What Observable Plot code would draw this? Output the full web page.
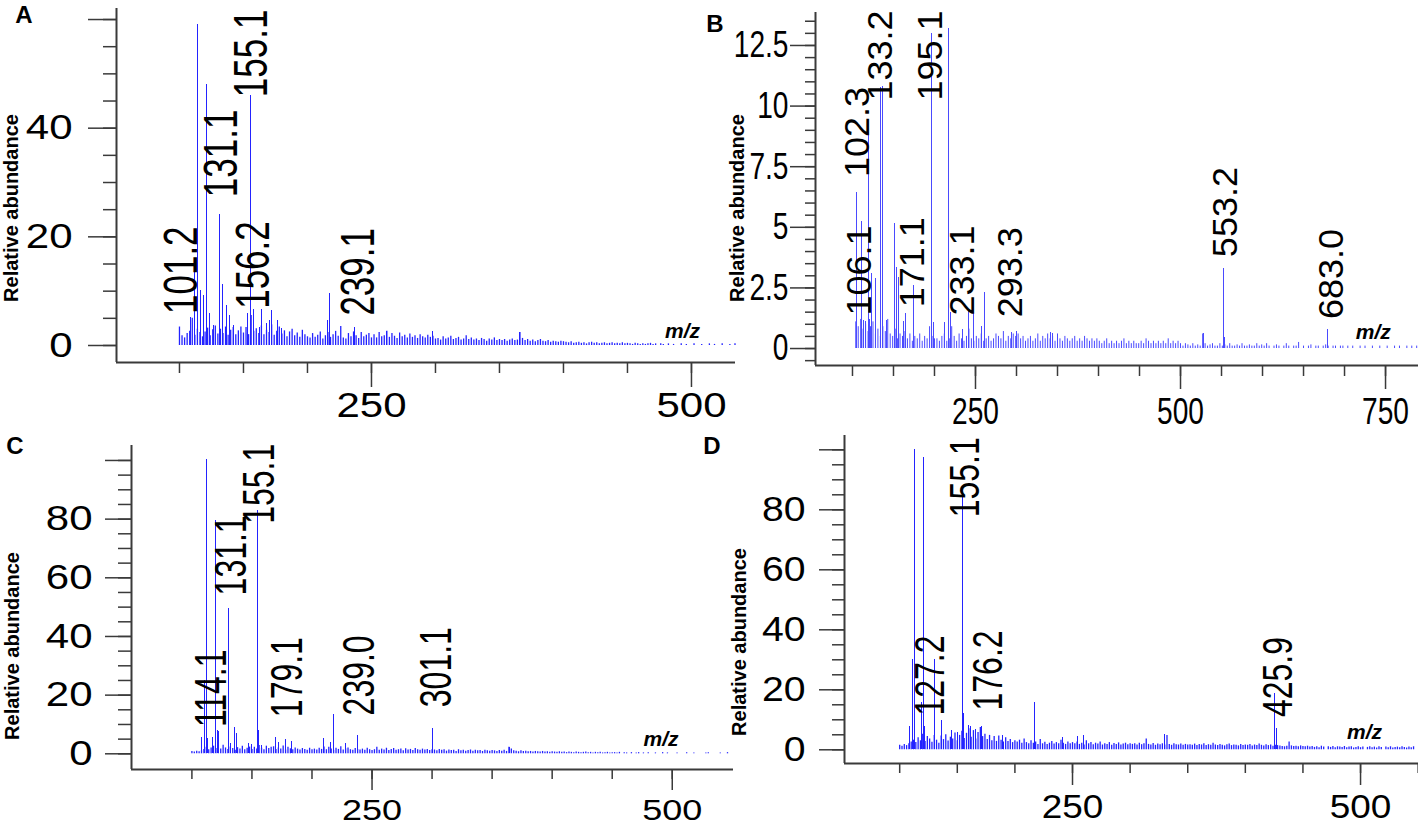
<!DOCTYPE html>
<html><head><meta charset="utf-8">
<script src="https://cdn.jsdelivr.net/npm/d3@7"></script>
<script src="https://cdn.jsdelivr.net/npm/@observablehq/plot@0.6"></script>
<style>
body{margin:0;background:#fff;}
#chart{position:relative;width:1418px;height:828px;overflow:hidden;background:#fff;font-family:"Liberation Sans",Arial,sans-serif;}
.panel{position:absolute;}
.letter{position:absolute;font-weight:bold;font-size:24px;transform:translate(-50%,-50%);color:#000;}
.ylab{position:absolute;font-weight:bold;font-size:20px;white-space:nowrap;transform:translate(-50%,-50%) rotate(-90deg);color:#000;}
</style></head><body><div id="chart"></div>
<script>
// ---------- Panel A data ----------
const peakMzA  = [100,109,111.7,113.7,116.3,118.9,121,123.3,126.4,131.1,133.8,136.4,139,142.4,153.3,155.1,158,162.4,163.7,167.6,170.2,172,176.2,179.8,215.4,217.2,237,261.5,297.4,365.5];
const peakIntA = [3.4,5.2,15.3,59.1,10.2,9.2,48.0,5.8,3.7,24.2,11.2,7.4,5.5,3.7,5.8,46.1,6.7,3.3,6.6,4.0,4.6,6.4,4.6,3.1,4.6,9.6,3.3,2.6,2.5,2.4];
// background ions, every 2 m/z from 100
const noiseA = [3.4,1.8,1.4,2.2,2.6,5.0,1.9,3.0,2.4,1.6,2.5,3.2,1.8,2.9,3.6,2.1,3.0,2.2,3.4,1.9,2.8,3.3,2.0,2.7,3.4,2.3,
3.3,2.0,5.5,2.6,3.1,2.2,3.6,2.0,2.8,2.4,3.8,1.9,2.6,3.4,2.1,2.7,1.6,2.5,3.0,1.8,2.3,1.5,2.8,2.0,1.6,
1.4,2.2,1.5,1.9,2.5,1.2,1.8,2.4,1.5,2.0,2.6,1.7,3.5,1.4,1.2,2.2,1.6,2.5,1.8,1.3,2.4,1.6,1.9,2.2,1.4,
2.0,1.4,2.4,1.6,1.8,2.6,1.5,2.2,1.7,1.3,2.3,1.6,1.9,1.4,2.1,1.5,1.8,1.3,2.0,1.6,1.4,1.9,1.5,1.7,1.2,
1.3,1.0,1.6,1.2,1.4,1.7,1.1,1.3,1.5,1.0,1.2,1.8,1.1,1.4,1.0,1.2,0.9,1.3,1.1,0.8,1.2,1.0,1.4,0.9,1.1,
0.9,1.1,0.8,1.0,1.2,0.9,1.0,2.4,1.3,0.9,1.1,0.8,1.0,0.7,0.9,1.1,0.8,0.7,0.9,0.6,0.8,0.7,0.6,0.8,0.7,
0.6,0.5,0.7,0.4,0.5,0.6,0.4,0.5,0.3,0.5,0.6,0.4,0.5,0.3,0.4,0.5,0.3,0.4,0.5,0.3,0.4,0.3,0.5,0.3,0.4,
0.3,0.2,0.4,0.3,0.2,0.3,0.2,0.3,0.4,0.2,0.3,0,0.3,0.2,0,0.3,0,0.2,0,0,0.3,0,0.2,0,0,0.3,0,0,0.2,0,0,0.3,0,0.2,0,0,0.3,0,0,0.2,0,0.3];
const labelTextA = ["101.2","131.1","155.1","156.2","239.1"];
const labelMzA   = [113.8,145.1,168.5,169.8,251.8];
const labelIntA  = [5.8,27.3,45.7,6.75,5.5];
const yTicksA = [0,5,10,15,20,25,30,35,40,45,50,55,60];
const yMajorA = [0,20,40,60];
const yLabelsA = [0,20,40];
const xTicksA = [100,150,200,250,300,350,400,450,500];
const xLabelsA = [250,500];

// ---------- Panel B data ----------
const peakMzB  = [104.9,111,113,116,119.1,121,123,128,134.2,137,142,151.6,153.2,155.7,162.6,165,174.8,196.3,199,212,217.5,219.5,234.6,241,248,257,261.4,293.5,300,341.5,344,528,552.4,553.5,679];
const peakIntB = [6.42,5.24,1.15,1.1,8.93,1.2,3.08,2.9,10.76,10.8,1.15,5.17,3.36,2.94,1.1,1.43,2.6,12.98,1.09,1.09,13.19,1.5,0.8,1.57,1.5,0.9,2.3,0.67,0.7,0.65,0.6,0.6,3.3,0.44,0.78];
// background ions, every 3 m/z from 104
const noiseB = [1.1,0.9,1.2,0.8,1.0,0.7,0.9,1.1,0.6,0.8,0.5,0.9,0.7,1.2,0.6,0.5,0.8,0.4,0.6,0.5,0.7,0.4,0.6,0.3,0.5,0.4,0.6,0.3,0.5,0.4,0.9,0.5,0.4,
0.4,0.3,0.5,0.6,0.3,0.4,0.9,0.5,0.3,0.6,0.4,0.3,0.5,0.8,0.4,0.3,0.5,0.4,0.6,0.3,0.4,0.5,0.3,0.4,0.6,0.5,0.4,0.7,0.3,0.5,0.4,0.6,0.5,
0.6,0.4,0.5,0.3,0.4,0.5,0.3,0.4,0.6,0.3,0.5,0.4,0.6,0.4,0.5,0.3,0.6,0.4,0.3,0.5,0.4,0.3,0.4,0.5,0.3,0.4,0.3,0.5,0.4,0.3,0.4,0.3,0.4,
0.3,0.2,0.3,0.4,0.2,0.3,0.2,0.3,0.2,0.3,0.4,0.2,0.3,0.2,0.3,0.2,0.2,0.3,0.2,0.4,0.3,0.2,0.3,0.2,0.3,0.2,0.3,0.2,0.4,0.2,0.3,0.2,0.3,
0.2,0.1,0.2,0.15,0.1,0.2,0.1,0.15,0.1,0.6,0.2,0.1,0.15,0.2,0.1,0.1,0.2,0.1,0.15,0.1,0.2,0.1,0.1,0.15,0.1,0.2,0.1,0.1,0.15,0.1,0.1,0.2,0.1,
0.15,0.1,0.2,0.1,0,0.1,0.15,0.1,0,0.1,0.2,0.1,0,0.1,0.1,0.25,0,0.1,0,0.1,0.15,0,0.1,0.1,0,0.1,0.15,0.1,0,0.1,0.1,0,0.1,
0.1,0,0.1,0,0.1,0,0,0.1,0,0.1,0,0,0.1,0,0,0.1,0,0,0.1,0,0,0.1,0,0.1,0,0,0.1,0,0.1,0,0.1];
const labelTextB = ["102.3","106.1","133.2","171.1","195.1","233.1","293.3","553.2","683.0"];
const labelMzB   = [119.9,122,148.4,187,209.4,248,307,569,697.6];
const labelIntB  = [7.07,1.36,10.23,1.70,10.23,1.36,1.29,3.77,1.22];
const yTicksB = [-0.5,0,0.5,1,1.5,2,2.5,3,3.5,4,4.5,5,5.5,6,6.5,7,7.5,8,8.5,9,9.5,10,10.5,11,11.5,12,12.5,13,13.5];
const yMajorB = [0,2.5,5,7.5,10,12.5];
const yLabelsB = [0,2.5,5,7.5,10,12.5];
const xTicksB = [100,150,200,250,300,350,400,450,500,550,600,650,700,750];
const xLabelsB = [250,500,750];

// ---------- Panel C data ----------
const peakMzC  = [107.8,110.5,112.2,113,117,119.7,121,122.5,130.2,132,135.5,137,147.4,150,154.4,155.4,158,169.6,172.4,178,183,209.9,215.5,217.7,228,237.7,300.6,364.5];
const peakIntC = [5.7,25,100.2,5.1,5.7,79.5,8.0,7.6,49.4,3.4,9.1,6.8,3.4,3.1,83,8.0,2.8,5.7,4.0,4.9,4.2,5.3,4.0,13.4,3.6,6.25,8.5,2.3];
// background ions, every 2 m/z from 100
const noiseC = [0.8,0.6,0.9,0.7,1.0,1.5,2.2,1.4,2.0,2.6,1.8,2.4,1.6,2.9,2.0,1.5,2.3,1.8,1.2,2.1,1.6,2.6,1.4,1.9,2.3,1.5,
2.2,1.6,2.8,1.9,1.4,2.6,1.8,2.2,2.4,1.5,2.0,1.6,2.7,1.3,2.2,1.7,1.4,2.0,1.6,1.3,1.8,1.5,1.2,1.9,1.4,
1.6,1.3,1.9,1.5,2.3,1.4,2.2,1.6,1.2,1.9,1.5,2.4,1.3,1.7,2.0,1.4,1.2,1.8,1.5,1.3,1.6,1.2,1.9,1.4,1.1,
1.4,2.2,1.2,1.6,1.3,1.9,1.1,1.5,1.8,1.2,1.4,1.6,1.0,1.7,1.3,1.5,1.1,1.8,1.4,1.2,1.6,1.3,1.5,1.1,1.4,
1.3,1.0,1.5,1.2,1.4,0.9,1.3,1.1,1.2,0.8,1.4,1.0,1.2,0.9,1.1,1.3,0.9,1.2,1.0,1.1,0.8,1.2,1.0,0.9,1.1,
1.0,0.8,1.1,0.9,1.2,0.8,2.2,1.6,1.0,0.9,0.7,1.0,0.8,0.9,0.7,0.8,0.6,0.8,0.7,0.6,0.8,0.6,0.7,0.5,0.7,
0.6,0.5,0.7,0.5,0.6,0.4,0.6,0.5,0.4,0.6,0.5,0.4,0.5,0.6,0.4,0.5,0.3,0.5,0.4,0.5,0.3,0.4,0.5,0.3,0.4,
0.4,0.3,0.5,0,0.4,0.3,0,0.4,0,0.3,0.4,0,0.3,0,0.4,0,0,0.3,0,0,0.4,0,0.3,0,0,0,0.3,0,0,0,0.4,0,0,0.3,0,0,0,0,0.3,0.4,0,0,0,0,0.3,0,0,0.4];
const labelTextC = ["114.1","131.1","155.1","179.1","239.0","301.1"];
const labelMzC   = [128,144.7,168.2,191.9,251.5,315.4];
const labelIntC  = [9.1,54,78.4,12.5,13.1,15.9];
const yTicksC = [0,5,10,15,20,25,30,35,40,45,50,55,60,65,70,75,80,85,90,95,100];
const yMajorC = [0,20,40,60,80,100];
const yLabelsC = [0,20,40,60,80];
const xTicksC = [100,150,200,250,300,350,400,450,500];
const xLabelsC = [250,500];

// ---------- Panel D data ----------
const peakMzD  = [108.5,110.8,113.1,118.9,120.4,121.8,130.5,136,145,150,154.3,155.1,159.5,161.8,166,170.7,189,217.3,241,254,259.5,330,425,427];
const peakIntD = [7.6,30,100,15.9,97.3,7.6,30,9.8,6.4,5.8,87.6,12,8.1,7.8,6.8,7.6,4.8,15.9,4.2,4.4,4.8,5.0,18.9,7.2];
// background ions, every 2 m/z from 100
const noiseD = [1.5,1.2,1.8,1.4,2.0,2.6,3.2,2.4,4.0,3.0,5.2,2.8,4.4,3.6,2.5,4.8,3.2,2.2,4.6,3.4,5.0,2.9,4.2,3.6,5.6,3.0,
4.8,6.2,3.8,5.5,7.0,4.2,6.4,3.6,5.8,7.4,4.4,5.2,3.4,4.8,3.0,4.4,2.8,4.6,3.2,2.6,4.0,2.8,3.4,2.4,3.0,
2.6,3.2,2.2,3.6,2.4,2.0,3.0,2.2,2.6,1.8,3.4,2.0,2.5,1.8,2.2,2.8,1.9,2.4,2.0,3.2,2.2,1.8,2.6,2.0,2.4,
2.0,2.6,1.8,2.2,1.6,3.0,2.0,2.4,1.7,2.2,1.9,2.6,1.6,2.0,1.8,2.4,1.5,2.1,1.8,2.3,1.6,1.9,2.2,1.7,2.0,
1.8,2.0,1.6,2.2,1.7,2.0,3.6,1.8,1.6,2.1,1.5,1.9,1.7,2.0,1.6,4.8,1.8,1.5,2.0,1.7,1.6,1.9,1.5,1.8,1.6,
1.7,1.5,1.9,1.4,1.8,1.6,2.0,1.4,1.7,1.5,2.2,1.6,1.4,1.8,1.5,1.3,1.7,1.9,1.4,1.6,1.5,1.3,1.8,1.4,1.6,
1.5,1.8,1.3,1.6,1.4,1.9,1.5,1.3,1.7,1.4,1.6,1.2,1.5,1.4,1.3,1.1,1.0,1.2,2.6,1.3,1.1,1.2,1.0,1.3,1.1,
1.0,1.2,0.9,1.1,0.8,1.0,0.7,1.2,0.9,0,1.0,0.8,1.1,0.7,1.0,0.9,0.8,1.1,0.7,0.9,1.0,0.6,0.8,1.0,0.7,0.9,0,0.8,1.0,0.7,0.9,0.6,1.0,0.8,0,0.9,0.7,1.0,0.6,0.8,0.9,0.7,1.0,0.8,0.6,0.9,0.7,1.0];
const labelTextD = ["127.2","155.1","176.2","425.9"];
const labelMzD   = [138.3,168.7,189,440.4];
const labelIntD  = [11.4,77.5,13.1,10.9];
const yTicksD = [0,5,10,15,20,25,30,35,40,45,50,55,60,65,70,75,80,85,90,95,100];
const yMajorD = [0,20,40,60,80,100];
const yLabelsD = [0,20,40,60,80];
const xTicksD = [100,150,200,250,300,350,400,450,500,550];
const xLabelsD = [250,500];

const panelLetters = ["A","B","C","D"];
const yTitle = "Relative abundance";
const xTitle = "m/z";

// ---------- layout / style ----------
const AXIS = "#3a3a3a";
const FONT = "Liberation Sans, Arial, sans-serif";

const panels = [
  {letter:panelLetters[0], left:0, top:0, width:740, height:430, mL:116, mR:5, mT:8, mB:68,
   xDomain:[50.8,534.4], yDomain:[-3.13,62.03],
   peakMz:peakMzA, peakInt:peakIntA, noise:noiseA, noiseStart:100, noiseStep:2,
   labelText:labelTextA, labelMz:labelMzA, labelInt:labelIntA,
   yTicks:yTicksA, yMajor:yMajorA, yLabels:yLabelsA, xTicks:xTicksA, xLabels:xLabelsA,
   yMin:13, yMaj:28, yPad:16, xMin:11, xMaj:25, xPad:5, tickFont:35, xFont:35, tickSx:1.2,
   peakFont:35, peakStretch:1.35, lineColor:"#2323ff", lineWidth:1.3,
   mzPos:[493,2.58], letterPos:[24,15], titlePos:[11,208]},
  {letter:panelLetters[1], left:700, top:0, width:718, height:430, mL:115, mR:0, mT:12, mB:65,
   xDomain:[54.9,790.2], yDomain:[-0.70,13.86],
   peakMz:peakMzB, peakInt:peakIntB, noise:noiseB, noiseStart:104, noiseStep:3,
   labelText:labelTextB, labelMz:labelMzB, labelInt:labelIntB,
   yTicks:yTicksB, yMajor:yMajorB, yLabels:yLabelsB, xTicks:xTicksB, xLabels:xLabelsB,
   yMin:10, yMaj:25, yPad:2, xMin:11, xMaj:24, xPad:8, tickFont:37, xFont:37, tickSx:0.76,
   peakFont:36, peakStretch:0.95, lineColor:"#4a4aff", lineWidth:1,
   mzPos:[735,0.66], letterPos:[715,24], titlePos:[737,208]},
  {letter:panelLetters[2], left:0, top:414, width:740, height:414, mL:131, mR:7, mT:31, mB:59,
   xDomain:[49.7,551], yDomain:[-5.35,105.1],
   peakMz:peakMzC, peakInt:peakIntC, noise:noiseC, noiseStart:100, noiseStep:2,
   labelText:labelTextC, labelMz:labelMzC, labelInt:labelIntC,
   yTicks:yTicksC, yMajor:yMajorC, yLabels:yLabelsC, xTicks:xTicksC, xLabels:xLabelsC,
   yMin:13, yMaj:26, yPad:13, xMin:10, xMaj:21, xPad:8, tickFont:35, xFont:30, tickSx:1.2,
   peakFont:32, peakStretch:1.4, lineColor:"#2323ff", lineWidth:1.3,
   mzPos:[490.7,4.9], letterPos:[15,446], titlePos:[12,646]},
  {letter:panelLetters[3], left:700, top:414, width:718, height:414, mL:144, mR:0, mT:21, mB:65,
   xDomain:[52.1,550.3], yDomain:[-4.57,104.77],
   peakMz:peakMzD, peakInt:peakIntD, noise:noiseD, noiseStart:100, noiseStep:2,
   labelText:labelTextD, labelMz:labelMzD, labelInt:labelIntD,
   yTicks:yTicksD, yMajor:yMajorD, yLabels:yLabelsD, xTicks:xTicksD, xLabels:xLabelsD,
   yMin:12, yMaj:25, yPad:14, xMin:10, xMaj:22, xPad:9, tickFont:35, xFont:33, tickSx:1.12,
   peakFont:32, peakStretch:1.3, lineColor:"#2323ff", lineWidth:1.3,
   mzPos:[503.5,5.9], letterPos:[712,446], titlePos:[739,642]}
];

// widen or narrow glyphs in place (the source figure's panels were resampled unevenly)
function stretchGroup(svg, names, sx, sy, only) {
  svg.querySelectorAll("g").forEach(g => {
    if (!names.includes(g.getAttribute("aria-label"))) return;
    g.querySelectorAll("text").forEach(t => {
      if (only && !only.includes(t.textContent)) return;
      const tr = t.getAttribute("transform") || "";
      t.setAttribute("transform", tr + " scale(" + sx + "," + sy + ")");
    });
  });
}

const chart = document.getElementById("chart");

for (const p of panels) {
  const noise = p.noise.map((v, i) => ({mz: p.noiseStart + i * p.noiseStep, int: v}));
  const peaks = p.peakMz.map((m, i) => ({mz: m, int: p.peakInt[i]}));
  const labels = p.labelText.map((t, i) => ({text: t, mz: p.labelMz[i], int: p.labelInt[i]}));
  const svg = Plot.plot({
    width: p.width, height: p.height,
    marginLeft: p.mL, marginRight: p.mR, marginTop: p.mT, marginBottom: p.mB,
    x: {domain: p.xDomain, label: null},
    y: {domain: p.yDomain, label: null},
    style: {background: "transparent", overflow: "visible", fontFamily: FONT, color: "#000"},
    marks: [
      Plot.ruleX(noise, {x: "mz", y1: 0, y2: "int", stroke: p.lineColor, strokeWidth: p.lineWidth}),
      Plot.ruleX(peaks, {x: "mz", y1: 0, y2: "int", stroke: p.lineColor, strokeWidth: 1, shapeRendering: "crispEdges"}),
      Plot.ruleX([p.xDomain[0]], {stroke: AXIS, strokeWidth: 2}),
      Plot.ruleY([p.yDomain[0]], {stroke: AXIS, strokeWidth: 2}),
      Plot.axisY(p.yTicks, {anchor: "left", tickSize: p.yMin, tickFormat: () => "", label: null, color: AXIS, strokeWidth: 1.5}),
      Plot.axisY(p.yMajor, {anchor: "left", tickSize: p.yMaj, tickPadding: p.yPad, label: null, color: AXIS, strokeWidth: 1.5,
        tickFormat: d => p.yLabels.includes(d) ? String(d) : "", fontSize: p.tickFont, fill: "#000"}),
      Plot.axisX(p.xTicks, {anchor: "bottom", tickSize: p.xMin, tickFormat: () => "", label: null, color: AXIS, strokeWidth: 1.5}),
      Plot.axisX(p.xLabels, {anchor: "bottom", tickSize: p.xMaj, tickPadding: p.xPad, label: null, color: AXIS, strokeWidth: 1.5,
        tickFormat: d => String(d), fontSize: p.xFont, fill: "#000"}),
      Plot.text(labels, {x: "mz", y: "int", text: "text", rotate: -90, textAnchor: "start", lineAnchor: "bottom",
        fontSize: p.peakFont, fill: "#000"}),
      Plot.text([xTitle], {x: () => p.mzPos[0], y: () => p.mzPos[1], text: d => d, fontSize: 21, fontWeight: "bold",
        fontStyle: "italic", fill: "#000", textAnchor: "middle", lineAnchor: "middle"})
    ]
  });
  stretchGroup(svg, ["y-axis tick label"], p.tickSx, 1);
  stretchGroup(svg, ["x-axis tick label"], p.tickSx, 1);
  stretchGroup(svg, ["text"], 1, p.peakStretch, p.labelText);
  const wrap = document.createElement("div");
  wrap.className = "panel";
  wrap.style.left = p.left + "px";
  wrap.style.top = p.top + "px";
  wrap.appendChild(svg);
  chart.appendChild(wrap);

  const L = document.createElement("div");
  L.className = "letter"; L.textContent = p.letter;
  L.style.left = p.letterPos[0] + "px"; L.style.top = p.letterPos[1] + "px";
  chart.appendChild(L);
  const T = document.createElement("div");
  T.className = "ylab"; T.textContent = yTitle;
  T.style.left = p.titlePos[0] + "px"; T.style.top = p.titlePos[1] + "px";
  chart.appendChild(T);
}
</script></body></html>
